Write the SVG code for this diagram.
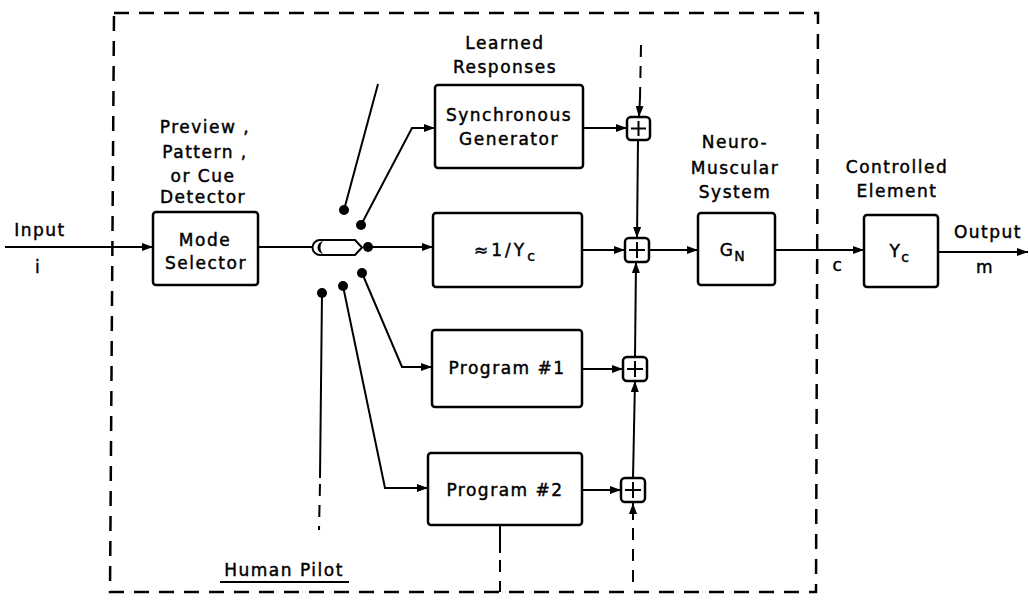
<svg xmlns="http://www.w3.org/2000/svg" width="1029" height="600" viewBox="0 0 1029 600">
<style>
.t{font-family:"DejaVu Sans",sans-serif;font-size:17px;letter-spacing:1.5px;fill:#000;stroke:#000;stroke-width:0.45;text-anchor:middle}
.b{fill:#fff;stroke:#000;stroke-width:2.5}
.l{fill:none;stroke:#000;stroke-width:2}
.d{fill:none;stroke:#000;stroke-width:2;stroke-dasharray:12,9}
.s{fill:#fff;stroke:#000;stroke-width:2.5}
</style>
<defs>
<marker id="a" viewBox="0 0 11 8" refX="11" refY="4" markerWidth="11" markerHeight="8" markerUnits="userSpaceOnUse" orient="auto">
<path d="M0,0 L11,4 L0,8 Z" fill="#000"/>
</marker>
</defs>
<rect width="1029" height="600" fill="#fff"/>
<g id="boundary">
<path d="M114,13 L818,13 L816,592 L110,592 Z" fill="none" stroke="#000" stroke-width="2.5" stroke-dasharray="15,10"/>
<text class="t" x="284" y="576">Human Pilot</text>
<line x1="220" y1="582" x2="349" y2="582" stroke="#000" stroke-width="1.8"/>
</g>
<g id="connectors">
<line class="l" x1="5" y1="247" x2="153" y2="247" marker-end="url(#a)"/>
<line class="l" x1="258" y1="247" x2="314" y2="247"/>
<line class="l" x1="368" y1="247" x2="433" y2="247" marker-end="url(#a)"/>
<polyline class="l" points="361,225 412,128 435,128" marker-end="url(#a)"/>
<line class="l" x1="344" y1="210" x2="378" y2="84"/>
<polyline class="l" points="362,273 402,367 432,367" marker-end="url(#a)"/>
<polyline class="l" points="343,286 385,488 428,488" marker-end="url(#a)"/>
<line class="l" x1="322" y1="293" x2="320" y2="478"/>
<line class="d" x1="320" y1="484" x2="319" y2="530"/>
<line class="l" x1="500" y1="525" x2="500" y2="553"/>
<line class="d" x1="500" y1="560" x2="500" y2="592"/>
<line class="d" x1="641" y1="45" x2="640" y2="98"/>
<line class="l" x1="640" y1="98" x2="639" y2="117" marker-end="url(#a)"/>
<line class="l" x1="583" y1="128" x2="627" y2="128" marker-end="url(#a)"/>
<line class="l" x1="638" y1="140" x2="637" y2="238" marker-end="url(#a)"/>
<line class="l" x1="582" y1="250" x2="625" y2="250" marker-end="url(#a)"/>
<line class="l" x1="635" y1="357" x2="636" y2="262" marker-end="url(#a)"/>
<line class="l" x1="582" y1="369" x2="623" y2="369" marker-end="url(#a)"/>
<line class="l" x1="633" y1="478" x2="635" y2="381" marker-end="url(#a)"/>
<line class="l" x1="582" y1="490" x2="621" y2="490" marker-end="url(#a)"/>
<line class="l" x1="633" y1="520" x2="633" y2="503" marker-end="url(#a)"/>
<line class="d" x1="633" y1="528" x2="633" y2="582"/>
<line class="l" x1="649" y1="250" x2="698" y2="250" marker-end="url(#a)"/>
<line class="l" x1="775" y1="250" x2="864" y2="250" marker-end="url(#a)"/>
<line class="l" x1="938" y1="252" x2="1028" y2="252" marker-end="url(#a)"/>
</g>
<g id="labels">
<text class="t" x="40" y="236">Input</text>
<text class="t" x="38" y="273">i</text>
<text class="t" x="205" y="133">Preview ,</text>
<text class="t" x="205" y="158">Pattern ,</text>
<text class="t" x="203" y="182">or Cue</text>
<text class="t" x="203" y="203">Detector</text>
<text class="t" x="505" y="49">Learned</text>
<text class="t" x="505" y="73">Responses</text>
<text class="t" x="735" y="148">Neuro-</text>
<text class="t" x="735" y="174">Muscular</text>
<text class="t" x="735" y="198">System</text>
<text class="t" x="897" y="173">Controlled</text>
<text class="t" x="897" y="197">Element</text>
<text class="t" x="988" y="238">Output</text>
<text class="t" x="985" y="273">m</text>
<text class="t" x="838" y="271">c</text>
</g>
<g id="mode-selector">
<rect class="b" x="153" y="212" width="105" height="73" rx="3"/>
<text class="t" x="205" y="246">Mode</text>
<text class="t" x="206" y="269">Selector</text>
</g>
<g id="switch">
<path d="M320,240 L355,240 L362,247.5 L355,255 L320,255 A7.5,7.5 0 0 1 320,240 Z" fill="#fff" stroke="#000" stroke-width="2"/>
<path d="M324,241 A6.5,6.5 0 0 0 324,254 A3.5,6.5 0 0 1 324,241 Z" fill="#000"/>
<circle cx="368" cy="247" r="5"/>
<circle cx="361" cy="225" r="5"/>
<circle cx="344" cy="210" r="5"/>
<circle cx="362" cy="273" r="5"/>
<circle cx="343" cy="286" r="5"/>
<circle cx="322" cy="293" r="5"/>
</g>
<g id="synchronous-generator">
<rect class="b" x="435" y="85" width="148" height="83" rx="3"/>
<text class="t" x="509" y="121">Synchronous</text>
<text class="t" x="509" y="145">Generator</text>
</g>
<g id="inverse-yc">
<rect class="b" x="433" y="213" width="149" height="74" rx="3"/>
<text class="t" x="506" y="256" style="letter-spacing:3px">≈1/Y<tspan font-size="14" dy="5">c</tspan></text>
</g>
<g id="program-1">
<rect class="b" x="432" y="330" width="150" height="77" rx="3"/>
<text class="t" x="507" y="374">Program #1</text>
</g>
<g id="program-2">
<rect class="b" x="428" y="453" width="154" height="72" rx="3"/>
<text class="t" x="505" y="496">Program #2</text>
</g>
<g id="sum-1"><rect class="s" x="627" y="117" width="23" height="23" rx="4"/><path class="l" d="M638.5,121 V136 M631,128.5 H646"/></g>
<g id="sum-2"><rect class="s" x="625" y="238" width="24" height="24" rx="4"/><path class="l" d="M637,242 V258 M629,250 H645"/></g>
<g id="sum-3"><rect class="s" x="623" y="357" width="24" height="24" rx="4"/><path class="l" d="M635,361 V377 M627,369 H643"/></g>
<g id="sum-4"><rect class="s" x="621" y="478" width="24" height="24" rx="4"/><path class="l" d="M633,482 V498 M625,490 H641"/></g>
<g id="neuromuscular">
<rect class="b" x="698" y="213" width="77" height="72" rx="3"/>
<text class="t" x="733" y="256">G<tspan font-size="14" dy="5">N</tspan></text>
</g>
<g id="controlled-element">
<rect class="b" x="864" y="215" width="74" height="72" rx="3"/>
<text class="t" x="900" y="257">Y<tspan font-size="14" dy="5">c</tspan></text>
</g>
</svg>
